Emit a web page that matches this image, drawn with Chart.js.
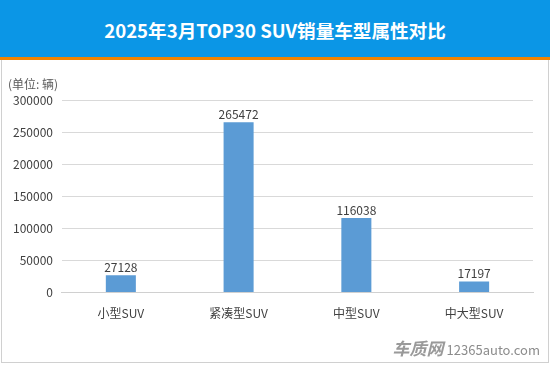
<!DOCTYPE html>
<html><head><meta charset="utf-8">
<script src="https://cdn.jsdelivr.net/npm/chart.js@4/dist/chart.umd.min.js"></script>
<style>
html,body{margin:0;padding:0;background:#fff;}
#wrap{position:relative;width:550px;height:365px;overflow:hidden;font-family:"Noto Sans CJK SC","Noto Sans",sans-serif;}
#hdr{position:absolute;left:0;top:0;width:550px;height:57px;background:#0b96e6;border-bottom:3px solid #f08300;color:#fff;font-weight:bold;font-size:18.6px;text-align:center;line-height:60px;}
#box{position:absolute;left:1px;top:60px;width:546px;height:302px;border:1px solid #d0d0d0;border-top:none;}
#cv{position:absolute;left:0;top:0;}
#unit{position:absolute;left:8px;top:75px;font-size:12px;color:#595959;}
#wm{position:absolute;right:10px;top:335px;color:#8c8c8c;font-size:13px;}
#wm b{font-size:17px;font-style:italic;color:#9a9a9a;margin-right:3px;}
</style></head>
<body><div id="wrap">
<div id="hdr">2025年3月TOP30 SUV销量车型属性对比</div>
<div id="box"></div>
<canvas id="cv" width="550" height="365"></canvas>
<div id="unit">(单位: 辆)</div>
<div id="wm"><b>车质网</b>12365auto.com</div>
</div>
<script>
const categories = ["小型SUV","紧凑型SUV","中型SUV","中大型SUV"];
const sales = [27128, 265472, 116038, 17197];
const yTicks = [0, 50000, 100000, 150000, 200000, 250000, 300000];

const labelPlugin = {
  id: 'vals',
  afterDatasetsDraw(chart) {
    const ctx = chart.ctx;
    const meta = chart.getDatasetMeta(0);
    ctx.save();
    ctx.font = '12px "Noto Sans CJK SC", sans-serif';
    ctx.fillStyle = '#404040';
    ctx.textAlign = 'center';
    ctx.textBaseline = 'bottom';
    meta.data.forEach((bar, i) => {
      ctx.fillText(String(sales[i]), bar.x, bar.y - 2);
    });
    ctx.restore();
  }
};

new Chart(document.getElementById('cv'), {
  type: 'bar',
  data: {
    labels: categories,
    datasets: [{ data: sales, backgroundColor: '#5b9bd5', barPercentage: 0.255, categoryPercentage: 1.0 }]
  },
  options: {
    responsive: false,
    animation: false,
    layout: { padding: { left: 4, right: 17, top: 100, bottom: 38 } },
    plugins: { legend: { display: false }, tooltip: { enabled: false } },
    scales: {
      x: {
        grid: { display: false },
        border: { color: '#d0d0d0' },
        ticks: { color: '#404040', font: { size: 12, family: '"Noto Sans CJK SC", sans-serif' }, padding: 6 }
      },
      y: {
        min: 0, max: 300000,
        afterBuildTicks(axis) { axis.ticks = yTicks.map(v => ({ value: v })); },
        grid: { color: '#d9d9d9', drawTicks: false },
        border: { display: false },
        ticks: { color: '#404040', font: { size: 12, family: '"Noto Sans CJK SC", sans-serif' }, padding: 9,
                 callback: v => String(v) }
      }
    }
  },
  plugins: [labelPlugin]
});
</script>
</body></html>
